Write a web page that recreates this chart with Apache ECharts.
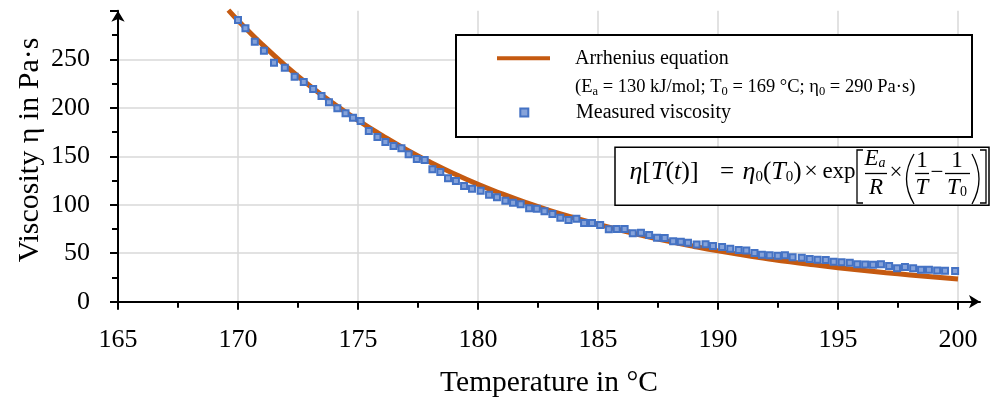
<!DOCTYPE html>
<html>
<head>
<meta charset="utf-8">
<title>Viscosity vs temperature</title>
<script src="https://cdn.jsdelivr.net/npm/echarts@6/dist/echarts.min.js"></script>
<style>
  html, body { margin: 0; padding: 0; background: #fff; }
  #main { width: 995px; height: 401px; }
</style>
</head>
<body>
<div id="main"></div>
<script>
// measured viscosity (°C / Pa·s)
var tempMeasured = [
  170.00, 170.31, 170.70, 171.08, 171.50, 171.95, 172.36, 172.74, 173.13, 173.48,
  173.79, 174.14, 174.48, 174.79, 175.11, 175.45, 175.81, 176.14, 176.48, 176.81,
  177.11, 177.45, 177.78, 178.10, 178.43, 178.75, 179.08, 179.42, 179.75, 180.11,
  180.46, 180.79, 181.14, 181.46, 181.78, 182.13, 182.45, 182.77, 183.10, 183.43,
  183.77, 184.10, 184.42, 184.75, 185.09, 185.45, 185.78, 186.11, 186.45, 186.79,
  187.13, 187.46, 187.78, 188.13, 188.45, 188.75, 189.11, 189.48, 189.79, 190.17,
  190.51, 190.86, 191.18, 191.52, 191.83, 192.15, 192.49, 192.79, 193.11, 193.49,
  193.82, 194.15, 194.49, 194.82, 195.15, 195.49, 195.80, 196.13, 196.46, 196.79,
  197.13, 197.46, 197.79, 198.13, 198.46, 198.79, 199.13, 199.46, 199.88
];
var viscMeasured = [
  290.5, 282.0, 268.2, 258.9, 246.5, 241.3, 232.1, 226.6, 219.4, 212.2,
  205.7, 199.5, 194.3, 189.8, 186.4, 176.1, 169.9, 164.7, 160.6, 158.2,
  152.0, 147.2, 146.1, 136.6, 133.8, 127.3, 124.5, 119.3, 116.5, 114.5,
  110.4, 107.7, 104.2, 102.1, 100.5, 96.3, 95.9, 93.2, 90.4, 86.6,
  84.3, 85.6, 81.2, 81.2, 79.1, 74.7, 75.0, 75.0, 70.5, 71.2,
  68.8, 66.0, 65.7, 62.3, 61.9, 60.8, 59.0, 59.2, 57.4, 56.4,
  54.7, 53.3, 52.8, 50.2, 48.4, 48.0, 47.4, 48.0, 45.8, 45.4,
  44.0, 43.2, 43.0, 41.3, 40.6, 40.2, 38.7, 38.4, 38.2, 38.6,
  36.8, 34.4, 35.8, 34.6, 32.9, 33.0, 32.2, 32.0, 31.7
];

// Arrhenius curve, every 1 °C
var tempFit = [169.6, 170, 171, 172, 173, 174, 175, 176, 177, 178, 179, 180,
  181, 182, 183, 184, 185, 186, 187, 188, 189, 190,
  191, 192, 193, 194, 195, 196, 197, 198, 199, 200];
var viscFit = [300.6, 290, 265.5, 243, 222.5, 204, 187, 171.5, 157, 144, 132, 121,
  111.2, 102.2, 94, 86.6, 79.8, 73.4, 67.5, 62, 57, 52.4,
  48.3, 44.6, 41.1, 38, 35.1, 32.4, 29.9, 27.6, 25.4, 23.4];

var xMin = 165, xMax = 200, xStep = 5;
var yMin = 0, yMax = 300, yStep = 50;

var serif = "'Liberation Serif', 'Times New Roman', serif";
var orange = '#C55A11';
var blue = '#4472C4';

var chart = echarts.init(document.getElementById('main'));

var measured = tempMeasured.map(function (t, i) { return [t, viscMeasured[i]]; });
var fit = tempFit.map(function (t, i) { return [t, viscFit[i]]; });

var axisBlack = { color: '#000', width: 2 };

// formula box pieces
var mrich = {
  i: { fontFamily: serif, fontStyle: 'italic', fontSize: 26 },
  s: { fontFamily: serif, fontSize: 15, verticalAlign: 'bottom', lineHeight: 14 },
  fi: { fontFamily: serif, fontStyle: 'italic', fontSize: 23 },
  fs: { fontFamily: serif, fontStyle: 'italic', fontSize: 14, verticalAlign: 'bottom', lineHeight: 13 },
  fz: { fontFamily: serif, fontSize: 14, verticalAlign: 'bottom', lineHeight: 13 }
};
function mtext(x, y, text, size) {
  return {
    type: 'text', z: 6, x: x, y: y,
    style: {
      text: text, fill: '#000', fontFamily: serif, fontSize: size,
      align: 'center', verticalAlign: 'middle',
      textAlign: 'center', textVerticalAlign: 'middle',
      rich: mrich
    }
  };
}
function mline(pts) {
  return { type: 'polyline', z: 6, shape: { points: pts }, style: { stroke: '#000', lineWidth: 1.3, fill: null } };
}

var legendBase = {
  orient: 'vertical',
  padding: 0,
  selectedMode: false
};

var option = {
  animation: false,
  backgroundColor: '#fff',
  grid: [
    { left: 118, right: 37, top: 10.8, bottom: 99.3, containLabel: false, outerBoundsMode: 'none' },
    { left: 118, right: 15, top: 10.8, bottom: 99.3, containLabel: false, outerBoundsMode: 'none' }
  ],
  legend: [
    Object.assign({}, legendBase, {
      left: 497, top: 48.3,
      itemWidth: 53, itemHeight: 4,
      textStyle: { fontFamily: serif, fontSize: 20, color: '#000', padding: [0, 0, 0, 20] },
      data: [{ name: 'Arrhenius equation', icon: 'rect' }]
    }),
    Object.assign({}, legendBase, {
      left: 519.3, top: 102.5,
      itemWidth: 8, itemHeight: 8,
      textStyle: { fontFamily: serif, fontSize: 20, color: '#000', padding: [0, 0, 0, 42.7] },
      data: [{ name: 'Measured viscosity', icon: 'rect' }]
    })
  ],
  xAxis: [
    {
      type: 'value', gridIndex: 0,
      min: xMin, max: xMax, interval: xStep,
      axisLine: { show: true, lineStyle: axisBlack },
      axisTick: { show: true, length: 8, lineStyle: axisBlack },
      minorTick: { show: true, splitNumber: 2, length: 6, lineStyle: axisBlack },
      axisLabel: { margin: 25, color: '#000', fontFamily: serif, fontSize: 26 },
      splitLine: { show: true, showMinLine: false, lineStyle: { color: '#d9d9d9', width: 1.5 } }
    },
    {
      type: 'value', gridIndex: 1, min: 0, max: 1,
      name: 'Temperature in °C',
      nameLocation: 'middle',
      nameGap: 67,
      nameTextStyle: { fontFamily: serif, fontSize: 29.5, color: '#000' },
      axisLine: { show: true, symbol: ['none', 'arrow'], symbolSize: [10, 11], lineStyle: axisBlack },
      axisTick: { show: false },
      axisLabel: { show: false },
      splitLine: { show: false }
    }
  ],
  yAxis: [
    {
      type: 'value', gridIndex: 0,
      min: yMin, max: yMax, interval: yStep,
      axisLine: { show: true, symbol: ['none', 'arrow'], symbolSize: [10, 11], lineStyle: axisBlack },
      axisTick: { show: true, length: 8, lineStyle: axisBlack },
      minorTick: { show: true, splitNumber: 2, length: 6, lineStyle: axisBlack },
      axisLabel: { margin: 28, color: '#000', fontFamily: serif, fontSize: 26, showMaxLabel: false },
      splitLine: { show: true, showMinLine: false, showMaxLine: false, lineStyle: { color: '#d9d9d9', width: 1.5 } }
    },
    { type: 'value', gridIndex: 1, min: 0, max: 1, show: false }
  ],
  series: [
    {
      name: 'Arrhenius equation',
      type: 'line',
      xAxisIndex: 0, yAxisIndex: 0,
      data: fit,
      smooth: true,
      symbol: 'none',
      clip: true,
      lineStyle: { color: orange, width: 5 },
      itemStyle: { color: orange },
      z: 2
    },
    {
      name: 'Measured viscosity',
      type: 'scatter',
      xAxisIndex: 0, yAxisIndex: 0,
      data: measured,
      symbol: 'rect',
      symbolSize: 6,
      itemStyle: { color: '#86a3da', borderColor: blue, borderWidth: 2, opacity: 1 },
      z: 3
    }
  ],
  graphic: [
    // legend frame
    {
      type: 'rect', z: 3,
      shape: { x: 456, y: 35, width: 516, height: 102 },
      style: { fill: '#fff', stroke: '#000', lineWidth: 2 }
    },
    {
      type: 'text', z: 6, x: 575, y: 87.3,
      style: {
        text: '(E{s|a} = 130 kJ/mol; T{s|0} = 169 °C; η{s|0} = 290 Pa·s)',
        fill: '#000', fontFamily: serif, fontSize: 18.5, lineHeight: 21,
        align: 'left', verticalAlign: 'middle',
        textAlign: 'left', textVerticalAlign: 'middle',
        rich: { s: { fontFamily: serif, fontSize: 12.5, verticalAlign: 'bottom', lineHeight: 14 } }
      }
    },
    // y axis title
    {
      type: 'text', z: 6, x: 30.5, y: 150, rotation: Math.PI / 2,
      style: {
        text: 'Viscosity η in Pa·s', fill: '#000', fontFamily: serif, fontSize: 30,
        align: 'center', verticalAlign: 'middle',
        textAlign: 'center', textVerticalAlign: 'middle'
      }
    },
    // formula frame
    {
      type: 'rect', z: 3,
      shape: { x: 615, y: 147.3, width: 374, height: 58 },
      style: { fill: '#fff', stroke: '#000', lineWidth: 1.5 }
    },
    mtext(664, 172, '{i|η}[{i|T}({i|t})]', 26),
    mtext(727, 172, '=', 25),
    mtext(772, 172, '{i|η}{s|0}({i|T}{s|0})', 25),
    mtext(811, 172, '×', 24),
    mtext(839, 172, 'exp', 23),
    mline([[863, 150], [857, 150], [857, 203], [863, 203]]),
    mtext(875, 159, '{fi|E}{fs|a}', 23),
    mline([[865, 173.5], [887, 173.5]]),
    mtext(876, 188, '{fi|R}', 23),
    mtext(896, 173, '×', 23),
    { type: 'bezierCurve', z: 6, shape: { x1: 914, y1: 154, cpx1: 899, cpy1: 179, x2: 914, y2: 204 }, style: { stroke: '#000', lineWidth: 1.3, fill: null } },
    mtext(922, 161, '1', 23),
    mline([[915, 173.5], [929, 173.5]]),
    mtext(922, 188, '{fi|T}', 23),
    mtext(937, 173, '−', 23),
    mtext(957, 161, '1', 23),
    mline([[945, 173.5], [970, 173.5]]),
    mtext(957, 188, '{fi|T}{fz|0}', 23),
    { type: 'bezierCurve', z: 6, shape: { x1: 972, y1: 154, cpx1: 986, cpy1: 179, x2: 972, y2: 204 }, style: { stroke: '#000', lineWidth: 1.3, fill: null } },
    mline([[980, 150], [986, 150], [986, 203], [980, 203]])
  ]
};

chart.setOption(option);
</script>
</body>
</html>
